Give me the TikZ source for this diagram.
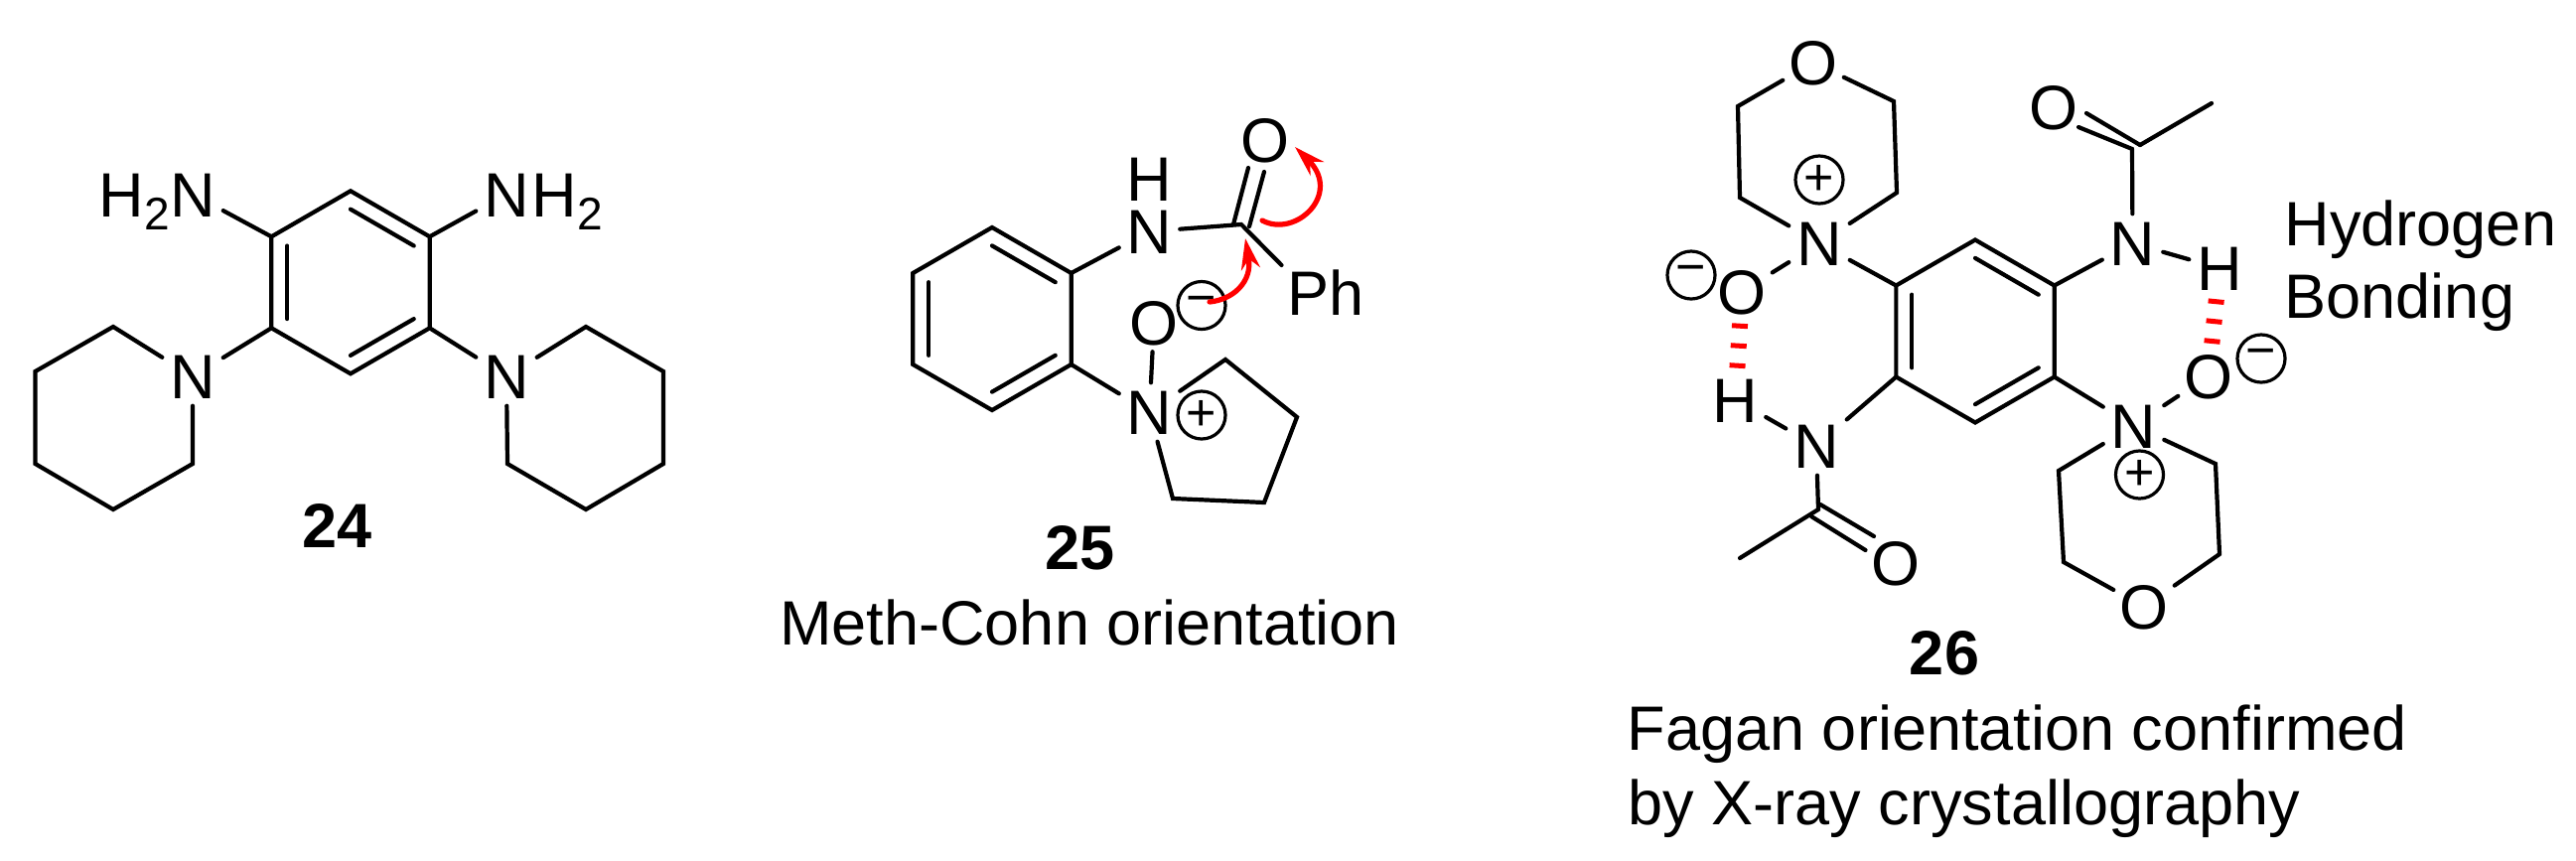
\documentclass[tikz,border=0pt]{standalone}
\usepackage{fontspec}
\setmainfont{Liberation Sans}
\usetikzlibrary{calc}
\usetikzlibrary{arrows.meta}

\tikzset{
    bond/.style={line width=0.042cm, line cap=round, line join=miter},
    atom/.style={inner sep=0pt, minimum width=0.6cm, minimum height=0.58cm, text height=0.45cm, text depth=0pt},
    sublabel/.style={inner sep=0pt, anchor=base west},
    caption/.style={inner sep=0pt, anchor=base west},
    compound/.style={inner sep=0pt, text height=0.45cm, text depth=0pt, font=\fontsize{17.93}{20}\selectfont\bfseries},
    charge/.style={circle, draw, line width=0.032cm, inner sep=0pt, minimum size=0.48cm, font=\fontsize{14.8}{15}\selectfont},
    hbond/.style={draw=red, line width=0.16cm, dash pattern=on 0.05cm off 0.15cm},
    pusharrow/.style={draw=red, line width=0.052cm, line cap=round, -{Stealth[length=0.31cm, width=0.19cm]}}
}
\newcommand{\subtwo}{\raisebox{-0.13cm}{\fontsize{13.1}{14}\selectfont 2}}

\begin{document}
\begin{tikzpicture}[x=0.01cm, y=-0.01cm, font=\fontsize{17.93}{20}\selectfont]
    \useasboundingbox (0,0) rectangle (2594,866);

    % the three benzene rings
    \foreach \r/\cx/\cy in {a/353/284.3, c/999/321, e/1989/333.5} {
        \coordinate (\r ctr) at (\cx,\cy);
        \foreach \i/\ang in {1/270, 2/330, 3/30, 4/90, 5/150, 6/210} {
            \coordinate (\r\i) at ($(\r ctr)+(\ang:92)$);
        }
        \draw[bond] (\r1) -- (\r2) -- (\r3) -- (\r4) -- (\r5) -- (\r6) -- cycle;
        \foreach \p/\q in {1/2, 3/4, 5/6} {
            \draw[bond] ($(\r ctr)!0.8!(\r\p)$) -- ($(\r ctr)!0.8!(\r\q)$);
        }
    }

    % 24
    \node[atom] (an1) at (194,195.5) {N};
    \node[atom] (an2) at (510,195.5) {N};
    \node[atom] (an3) at (194,379) {N};
    \node[atom] (an4) at (510,379) {N};
    \node[sublabel] (ah1) at (99,218) {H\subtwo};
    \node[sublabel] (ah2) at (535,218) {H\subtwo};
    \foreach \n/\x/\y in {b1/114/329, b2/35.5/374, b3/35.5/467, b4/114/513, b5/194/467,
        d1/590/329, d2/668/374, d3/668/467, d4/590/513, d5/511/467} {
        \coordinate (\n) at (\x,\y);
    }
    \draw[bond] (a6) -- (an1);
    \draw[bond] (a2) -- (an2);
    \draw[bond] (a5) -- (an3);
    \draw[bond] (a3) -- (an4);
    \draw[bond] (an3) -- (b1) -- (b2) -- (b3) -- (b4) -- (b5) -- (an3);
    \draw[bond] (an4) -- (d1) -- (d2) -- (d3) -- (d4) -- (d5) -- (an4);
    \node[compound] (lab24) at (340,528.5) {24};

    % 25
    \node[atom] (cn1) at (1157.5,233) {N};
    \node[atom] (ch1) at (1157.5,180) {H};
    \node[atom] (co1) at (1274,140.5) {O};
    \node[atom] (co2) at (1162,324.5) {O};
    \node[atom] (cn2) at (1157.5,415) {N};
    \node[caption] (cph) at (1296,317) {Ph};
    \node[charge] (cminus) at (1210,307.5) {−};
    \node[charge] (cplus) at (1210,418) {+};
    \foreach \n/\x/\y in {cc/1250/226, cend/1290.5/267, cd1/1242/226, cd2/1257/169, cd3/1258/228, cd4/1273/173,
        f1/1234/362, f2/1306/420, f3/1273/506, f4/1181/502} {
        \coordinate (\n) at (\x,\y);
    }
    \draw[bond] (c2) -- (cn1);
    \draw[bond] (cn1) -- (cc) -- (cend);
    \draw[bond] (cd1) -- (cd2);
    \draw[bond] (cd3) -- (cd4);
    \draw[bond] (c3) -- (cn2);
    \draw[bond] (co2) -- (cn2);
    \draw[bond] (cn2) -- (f1) -- (f2) -- (f3) -- (f4) -- (cn2);
    \coordinate (ar1) at (1218,304);
    \coordinate (ar2) at (1254,240);
    \coordinate (ar3) at (1271,222);
    \coordinate (ar4) at (1304,148);
    \draw[pusharrow] (ar1) .. controls (1240,302) and (1262,285) .. (ar2);
    \draw[pusharrow] (ar3) .. controls (1305,240) and (1352,195) .. (ar4);
    \node[compound] (lab25) at (1087.5,550.5) {25};
    \node[caption] (cap25) at (784.5,649) {Meth-Cohn orientation};

    % 26
    \node[atom] (en1) at (1832,245) {N};
    \node[atom] (eo1) at (1826,63) {O};
    \node[atom] (eo2) at (1754,293.5) {O};
    \node[atom] (eh1) at (1747.5,402.5) {H};
    \node[atom] (en2) at (1829,449) {N};
    \node[atom] (eo3) at (1909,567) {O};
    \node[atom] (en3) at (2147.5,245) {N};
    \node[atom] (eo4) at (2068,108) {O};
    \node[atom] (eh2) at (2235,270) {H};
    \node[atom] (eo5) at (2224,378.5) {O};
    \node[atom] (en4) at (2148.5,428.5) {N};
    \node[atom] (eo6) at (2159,611) {O};
    \node[charge] (eplus1) at (1832,181) {+};
    \node[charge] (eminus1) at (1703,277) {−};
    \node[charge] (eminus2) at (2277,361) {−};
    \node[charge] (eplus2) at (2154.5,478) {+};
    \foreach \n/\x/\y in {g1/1750/107, g2/1752/199, g3/1910/194, g4/1907/102,
        k1/2073/474, k2/2078/566, k3/2235/558, k4/2231/467,
        m1/1831/513, m2/1752/562, m3/1833/508, m4/1887/540, m5/1824/520, m6/1878.5/554,
        q1/2147/150, q2/2155/146, q3/2227/104, q4/2101/114, q5/2093/128, q6/2147/159} {
        \coordinate (\n) at (\x,\y);
    }
    \draw[bond] (e6) -- (en1);
    \draw[bond] (en1) -- (g2) -- (g1) -- (eo1);
    \draw[bond] (en1) -- (g3) -- (g4) -- (eo1);
    \draw[bond] (en1) -- (eo2);
    \draw[bond] (e5) -- (en2);
    \draw[bond] (eh1) -- (en2);
    \draw[bond] (en2) -- (m1) -- (m2);
    \draw[bond] (m3) -- (m4);
    \draw[bond] (m5) -- (m6);
    \draw[bond] (e2) -- (en3);
    \draw[bond] (en3) -- (q1);
    \draw[bond] (q2) -- (q3);
    \draw[bond] (q2) -- (q4);
    \draw[bond] (q1) -- (q5);
    \draw[bond] (en3) -- (eh2);
    \draw[bond] (e3) -- (en4);
    \draw[bond] (en4) -- (eo5);
    \draw[bond] (en4) -- (k1) -- (k2) -- (eo6);
    \draw[bond] (en4) -- (k4) -- (k3) -- (eo6);
    \draw[hbond, shorten <=0.025cm] (eo2) -- (eh1);
    \draw[hbond, shorten <=0.015cm] (eh2) -- (eo5);
    \node[compound] (lab26) at (1958,656.5) {26};
    \node[caption] (cap26a) at (1638,755) {Fagan orientation confirmed};
    \node[caption] (cap26b) at (1639,830) {by X-ray crystallography};
    \node[caption] (hb1) at (2300,247) {Hydrogen};
    \node[caption] (hb2) at (2300,320) {Bonding};
\end{tikzpicture}
\end{document}
